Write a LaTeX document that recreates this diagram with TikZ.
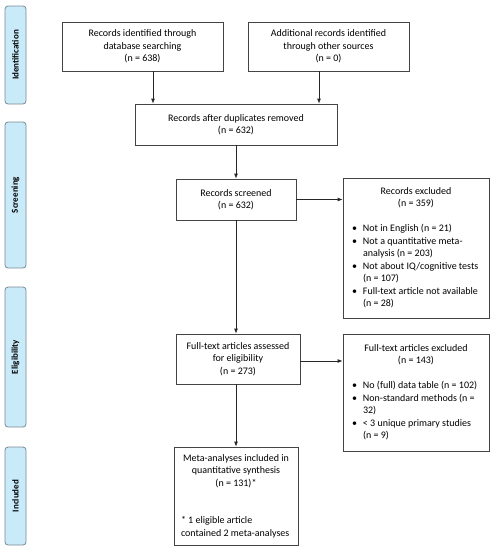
\documentclass[tikz,border=0pt]{standalone}
\usepackage{fontspec}
\setmainfont{Carlito}
\usetikzlibrary{arrows.meta,calc}
\definecolor{sidefill}{HTML}{C8EAF9}
\definecolor{sidedraw}{HTML}{7A8A92}
\definecolor{boxdraw}{HTML}{444444}
\newcommand{\hdr}[1]{\multicolumn{2}{@{}c@{}}{#1}}
\begin{document}
\begin{tikzpicture}[x=1pt,y=-1pt,
  every node/.style={font=\fontsize{10}{12.5}\selectfont},
  box/.style={draw=boxdraw, line width=0.8pt, fill=white, align=center, inner sep=0pt},
  side/.style={draw=sidedraw, fill=sidefill, line width=0.8pt, rounded corners=3pt, minimum width=21pt, inner sep=0pt},
  sidelabel/.style={rotate=90, font=\fontsize{9}{11}\selectfont\bfseries},
  arr/.style={draw=black!85, line width=0.8pt, -{Latex[length=5pt,width=4pt]}}]
\useasboundingbox (0,0) rectangle (493,550);
% sidebars
\node[side, minimum height=98pt] (s1) at (15.5,55) {};
\node[sidelabel] (t1) at (s1.center) {Identification};
\node[side, minimum height=146pt] (s2) at (15.5,195) {};
\node[sidelabel] (t2) at (s2.center) {Screening};
\node[side, minimum height=140pt] (s3) at (15.5,357) {};
\node[sidelabel] (t3) at (s3.center) {Eligibility};
\node[side, minimum height=98pt] (s4) at (15.5,496) {};
\node[sidelabel] (t4) at (s4.center) {Included};
% boxes
\node[box, minimum width=161pt, minimum height=49pt] (b1) at (142.5,46.5) {Records identified through\\database searching\\(n = 638)};
\node[box, minimum width=161pt, minimum height=49pt] (b2) at (328.5,46.5) {Additional records identified\\through other sources\\(n = 0)};
\node[box, minimum width=202pt, minimum height=41pt] (b3) at (236,124.5) {Records after duplicates removed\\(n = 632)};
\node[box, minimum width=120pt, minimum height=41pt] (b4) at (236,199.5) {Records screened\\(n = 632)};
\node[box, minimum width=146pt, minimum height=140pt] (b5) at (416,248) {%
  \begin{tabular}{@{}p{11pt}@{}p{117pt}@{}}
  \hdr{Records excluded}\\
  \hdr{(n = 359)}\\
  & \\
  \textbullet & Not in English (n = 21)\\
  \textbullet & Not a quantitative meta-\\
  & analysis (n = 203)\\
  \textbullet & Not about IQ/cognitive tests\\
  & (n = 107)\\
  \textbullet & Full-text article not available\\
  & (n = 28)
  \end{tabular}};
\node[box, minimum width=124pt, minimum height=50pt] (b6) at (238,359) {Full-text articles assessed\\for eligibility\\(n = 273)};
\node[box, minimum width=146pt, minimum height=117pt] (b7) at (416,392.5) {%
  \begin{tabular}{@{}p{11pt}@{}p{117pt}@{}}
  \hdr{Full-text articles excluded}\\
  \hdr{(n = 143)}\\
  & \\
  \textbullet & No (full) data table (n = 102)\\
  \textbullet & Non-standard methods (n =\\
  & 32)\\
  \textbullet & < 3 unique primary studies\\
  & (n = 9)
  \end{tabular}};
\node[box, minimum width=124pt, minimum height=98pt] (b8) at (236,496) {%
  \begin{tabular}{@{}p{110pt}@{}}
  \multicolumn{1}{@{}c@{}}{Meta-analyses included in}\\
  \multicolumn{1}{@{}c@{}}{quantitative synthesis}\\
  \multicolumn{1}{@{}c@{}}{(n = 131)*}\\
  \\
  \\
  \relax{*} 1 eligible article\\
  contained 2 meta-analyses
  \end{tabular}};
% arrows
\draw[arr] ([xshift=10.5pt]b1.south) -- ([xshift=10.5pt]b1.south |- b3.north);
\draw[arr] ([xshift=-9.5pt]b2.south) -- ([xshift=-9.5pt]b2.south |- b3.north);
\draw[arr] (b3.south) -- (b4.north);
\draw[arr] (b4.east) -- (b4.east -| b5.west);
\draw[arr] (b4.south) -- (b4.south |- b6.north);
\draw[arr] ([yshift=-2pt]b6.east) -- ([yshift=-2pt]b6.east -| b7.west);
\draw[arr] (b6.south -| b4.south) -- (b4.south |- b8.north);
\end{tikzpicture}
\end{document}
